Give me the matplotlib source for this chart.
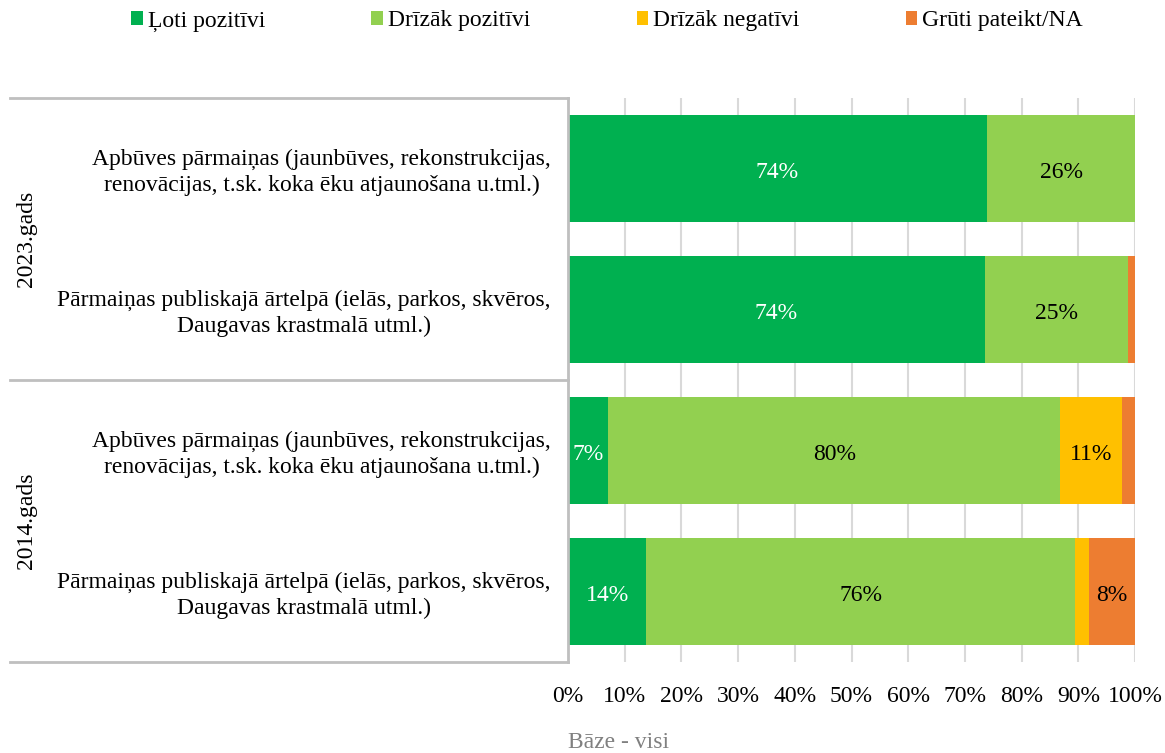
import numpy as np
import matplotlib.pyplot as plt

plt.rcParams['font.family'] = ['Liberation Serif', 'DejaVu Serif']

# data
categories = [
    'Apbūves pārmaiņas (jaunbūves, rekonstrukcijas,\nrenovācijas, t.sk. koka ēku atjaunošana u.tml.)',
    'Pārmaiņas publiskajā ārtelpā (ielās, parkos, skvēros,\nDaugavas krastmalā utml.)',
    'Apbūves pārmaiņas (jaunbūves, rekonstrukcijas,\nrenovācijas, t.sk. koka ēku atjaunošana u.tml.)',
    'Pārmaiņas publiskajā ārtelpā (ielās, parkos, skvēros,\nDaugavas krastmalā utml.)',
]
groups = ['2023.gads', '2014.gads']
series = ['Ļoti pozitīvi', 'Drīzāk pozitīvi', 'Drīzāk negatīvi', 'Grūti pateikt/NA']
loti_poz = [73.9, 73.5, 7.1, 13.8]
drizak_poz = [26.1, 25.3, 79.7, 75.6]
drizak_neg = [0.0, 0.0, 10.9, 2.5]
gruti = [0.0, 1.2, 2.3, 8.1]
colors = ['#00B050', '#92D050', '#FFC000', '#ED7D31']
label_colors = ['white', 'black', 'black', 'black']

fig = plt.figure(figsize=(11.65, 7.53), dpi=100)
ax = fig.add_axes([568 / 1165, 1 - 662 / 753, 567 / 1165, 564 / 753])

y = np.arange(len(categories))
left = np.zeros(len(categories))
for vals, name, col, lc in zip([loti_poz, drizak_poz, drizak_neg, gruti], series, colors, label_colors):
    vals = np.array(vals)
    ax.barh(y, vals, left=left, height=0.76, color=col, label=name, zorder=2)
    for yi, l, v in zip(y, left, vals):
        if v >= 5:
            ax.text(l + v / 2, yi + 0.025, f'{round(v):.0f}%', ha='center', va='center',
                    color=lc, fontsize=17)
    left += vals

ax.set_xlim(0, 100)
ax.set_ylim(3.5, -0.5)
ax.set_xticks(np.arange(0, 101, 10))
ax.set_xticklabels([f'{t}%' for t in range(0, 101, 10)], fontsize=17)
ax.tick_params(axis='x', length=0, pad=17)
ax.set_yticks([])
ax.grid(axis='x', color='#D9D9D9', linewidth=1.5, zorder=0)
for s in ['top', 'right', 'bottom']:
    ax.spines[s].set_visible(False)
ax.spines['left'].set_color('#BFBFBF')
ax.spines['left'].set_linewidth(2)

# category labels and group separators on the left (multi-level axis)
for yi, cat in zip(y, categories):
    ax.text(-3.0, yi + 0.025, cat, ha='right', va='center', fontsize=17,
            multialignment='center', linespacing=1.3)
x0 = -558 / 567 * 100
for yy in [-0.5, 1.5, 3.5]:
    ax.plot([x0, 0], [yy, yy], color='#BFBFBF', linewidth=2, clip_on=False)
for gi, g in enumerate(groups):
    ax.text(-95.5, gi * 2 + 0.5, g, rotation=90, ha='center', va='center', fontsize=17)

fig.legend(loc='center', bbox_to_anchor=(607 / 1165, 1 - 21 / 753), ncol=4, frameon=False,
           fontsize=17, handlelength=0.5, handleheight=0.55, handletextpad=0.2,
           columnspacing=4.5)

fig.text(568 / 1165, 1 - 743 / 753, 'Bāze - visi', color='#808080', fontsize=17,
         ha='left', va='center')

plt.savefig('out.png')
